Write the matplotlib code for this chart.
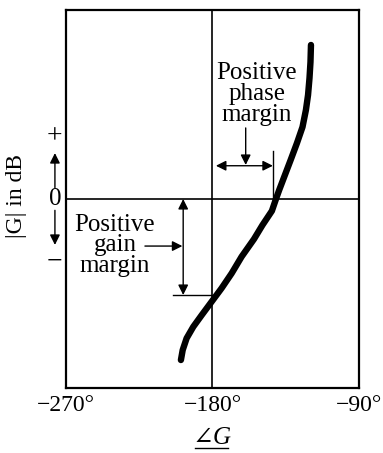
import numpy as np
import matplotlib.pyplot as plt

# Nichols-type sketch: |G| in dB vs phase angle of G
phase = [-199.4, -198.3, -195.9, -191.8, -186.6, -180.5, -174.4, -168.2, -162.1,
         -154.5, -149.3, -143.5, -141.0, -139.0, -135.9, -132.0, -128.1, -124.7,
         -122.6, -121.3, -120.4, -119.8, -119.5]
gain_db = [-8.52, -7.99, -7.37, -6.76, -6.14, -5.43, -4.72, -3.93, -3.05,
           -2.12, -1.38, -0.63, 0.0, 0.48, 1.18, 2.06, 2.96, 3.81,
           4.71, 5.50, 6.40, 7.25, 8.15]
phase_ticks = [-270, -180, -90]
tick_labels = ["\u2212270\u00b0", "\u2212180\u00b0", "\u221290\u00b0"]

plt.rcParams['font.family'] = ['Liberation Serif', 'DejaVu Serif']
fs = 18

fig = plt.figure(figsize=(3.83, 4.53), dpi=100)
ax = fig.add_axes([0.1723, 0.1435, 0.765, 0.8344])
ax.set_xlim(-270, -90)
ax.set_ylim(-10, 10)

ax.plot(phase, gain_db, color='black', lw=4.6, solid_capstyle='round', solid_joinstyle='round')
ax.axvline(-180, color='black', lw=1.2)
ax.axhline(0, color='black', lw=1.2)

for s in ax.spines.values():
    s.set_linewidth(1.6)
ax.set_yticks([])
ax.set_xticks(phase_ticks)
ax.set_xticklabels(tick_labels, fontsize=17)
ax.tick_params(axis='x', length=0, pad=5)

arr = dict(arrowstyle='-|>', color='black', lw=1.0, mutation_scale=15, shrinkA=0, shrinkB=0)
dbl = dict(arrowstyle='<|-|>', color='black', lw=1.0, mutation_scale=15, shrinkA=0, shrinkB=0)

# phase margin
ax.plot([-142.6, -142.6], [0, 2.54], color='black', lw=1.0)
ax.annotate('', xy=(-177.9, 1.76), xytext=(-142.9, 1.76), arrowprops=dbl)
ax.annotate('', xy=(-159.6, 1.8), xytext=(-159.6, 3.76), arrowprops=arr)
ax.text(-152.7, 5.55, "Positive\nphase\nmargin", fontsize=fs, ha='center', va='center',
        linespacing=0.92)

# gain margin
ax.plot([-204.5, -180.0], [-5.08, -5.08], color='black', lw=1.0)
ax.annotate('', xy=(-198.0, 0), xytext=(-198.0, -5.08), arrowprops=dbl)
ax.annotate('', xy=(-198.5, -2.49), xytext=(-221.5, -2.49), arrowprops=arr)
ax.text(-239.9, -2.45, "Positive\ngain\nmargin", fontsize=fs, ha='center', va='center',
        linespacing=0.92)

# left side sign markers
ax.text(-276.8, 3.28, "+", fontsize=fs + 2, ha='center', va='center', clip_on=False)
ax.text(-276.8, -3.33, "\u2212", fontsize=fs + 2, ha='center', va='center', clip_on=False)
ax.text(-276.8, 0, "0", fontsize=fs, ha='center', va='center', clip_on=False)
ax.annotate('', xy=(-276.8, 2.43), xytext=(-276.8, 0.6), arrowprops=arr, annotation_clip=False)
ax.annotate('', xy=(-276.8, -2.43), xytext=(-276.8, -0.6), arrowprops=arr, annotation_clip=False)

fig.text(0.044, 0.567, "|G| in dB", rotation=90, fontsize=17, ha='center', va='center')
fig.text(0.553, 0.033, "\u2220G", fontsize=fs, style='italic', ha='center', va='center')
fig.add_artist(plt.Line2D([0.51, 0.595], [0.01, 0.01], color='black', lw=1.0))

fig.savefig('out.png', dpi=100)
